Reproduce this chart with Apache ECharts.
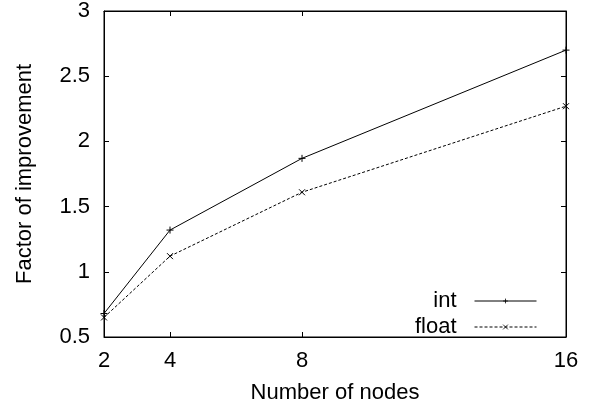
<!DOCTYPE html>
<html lang="en">
<head>
<meta charset="UTF-8">
<title>Factor of improvement</title>
<script src="https://cdn.jsdelivr.net/npm/echarts@6/dist/echarts.min.js"></script>
<style>
    body{margin:0;background:#fff;}
    #chart{width:592px;height:412px;}
</style>
</head>
<body>
<div id="chart"></div>
<script>
// data
var nodes = [2, 4, 8, 16];
var intVals = [0.68, 1.32, 1.87, 2.70];
var floatVals = [0.65, 1.12, 1.61, 2.27];
var yTicks = [0.5, 1, 1.5, 2, 2.5, 3];

var font = 'Liberation Sans, Arial, sans-serif';
var fs = 22;
var plus = 'path://M0,5L10,5M5,0L5,10';
var cross = 'path://M0,0L10,10M10,0L0,10';

function pairs(xs, ys){
    var out = [];
    for (var i = 0; i < xs.length; i++) out.push([xs[i], ys[i]]);
    return out;
}

var chart = echarts.init(document.getElementById('chart'));
var axisLine = {show: true, lineStyle: {color: '#000', width: 1}};
var legendText = {fontSize: fs, color: '#000', fontFamily: font, padding: [0, 13, 0, 0]};
var option = {
    animation: false,
    textStyle: {fontFamily: font},
    grid: {left: 104, right: 26, top: 11, bottom: 75, show: true, borderColor: '#000', borderWidth: 1},
    legend: [{
        data: ['int'], orient: 'vertical', right: 50, top: 285, itemWidth: 62, itemHeight: 6,
        align: 'right', textStyle: legendText, lineStyle: {width: 1}, itemStyle: {borderWidth: 0.8}
    }, {
        data: ['float'], orient: 'vertical', right: 50, top: 311, itemWidth: 62, itemHeight: 6,
        align: 'right', textStyle: legendText, lineStyle: {width: 1}, itemStyle: {borderWidth: 0.8}
    }],
    xAxis: [{
        type: 'value', min: 2, max: 16,
        name: 'Number of nodes', nameLocation: 'middle', nameGap: 45,
        nameTextStyle: {fontSize: fs, color: '#000', fontFamily: font},
        axisLine: axisLine,
        axisTick: {show: true, inside: true, length: 5, customValues: nodes, lineStyle: {color: '#000'}},
        axisLabel: {customValues: nodes, fontSize: fs, color: '#000', margin: 13, fontFamily: font},
        splitLine: {show: false}
    }, {
        type: 'value', min: 2, max: 16, position: 'top',
        axisLine: axisLine,
        axisTick: {show: true, inside: true, length: 5, customValues: nodes, lineStyle: {color: '#000'}},
        axisLabel: {show: false},
        splitLine: {show: false}
    }],
    yAxis: [{
        type: 'value', min: 0.5, max: 3, interval: 0.5,
        name: 'Factor of improvement', nameLocation: 'middle', nameGap: 68,
        nameTextStyle: {fontSize: fs, color: '#000', fontFamily: font},
        axisLine: axisLine,
        axisTick: {show: true, inside: true, length: 5, customValues: yTicks, lineStyle: {color: '#000'}},
        axisLabel: {customValues: yTicks, fontSize: fs, color: '#000', margin: 14, fontFamily: font},
        splitLine: {show: false}
    }, {
        type: 'value', min: 0.5, max: 3, interval: 0.5, position: 'right',
        axisLine: axisLine,
        axisTick: {show: true, inside: true, length: 5, customValues: yTicks, lineStyle: {color: '#000'}},
        axisLabel: {show: false},
        splitLine: {show: false}
    }],
    series: [{
        name: 'int', type: 'line', data: pairs(nodes, intVals),
        symbol: plus, symbolSize: 7, showAllSymbol: true,
        lineStyle: {color: '#000', width: 1},
        itemStyle: {color: 'none', borderColor: '#000', borderWidth: 1}
    }, {
        name: 'float', type: 'line', data: pairs(nodes, floatVals),
        symbol: cross, symbolSize: 6, showAllSymbol: true,
        lineStyle: {color: '#000', width: 1, type: [3, 2]},
        itemStyle: {color: 'none', borderColor: '#000', borderWidth: 1}
    }]
};
chart.setOption(option);
</script>
</body>
</html>
